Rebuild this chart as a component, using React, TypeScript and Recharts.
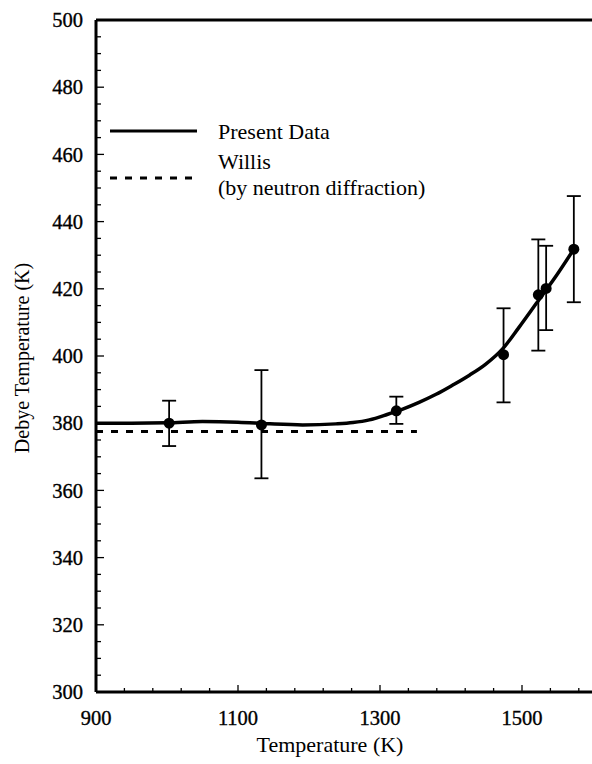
import React from "react";
import { ComposedChart, Line, Scatter, ErrorBar, XAxis, YAxis, ReferenceLine } from "recharts";

const pointT = [1003, 1133, 1323, 1474, 1523, 1534, 1573];
const pointTheta = [380.0, 379.5, 383.7, 400.4, 418.2, 420.1, 431.8];
const errLow = [6.8, 15.9, 3.9, 14.2, 16.6, 12.4, 15.8];
const errHigh = [6.7, 16.3, 4.2, 13.8, 16.5, 12.7, 15.8];

const curveT = [900, 950, 1000, 1050, 1100, 1145, 1191, 1238, 1262, 1285, 1310, 1332, 1355, 1379, 1402, 1426, 1449, 1473, 1496, 1520, 1548, 1573];
const curveTheta = [380.0, 380.0, 380.1, 380.5, 380.3, 379.8, 379.5, 379.8, 380.2, 381.0, 382.6, 384.2, 386.2, 388.6, 391.3, 394.3, 397.6, 402.2, 408.6, 415.6, 423.8, 431.8];

const willisT = [900, 1352];
const willisTheta = [377.5, 377.5];

const xMajor = [900, 1100, 1300, 1500];
const xTicks = Array.from({ length: 18 }, (_, i) => 900 + i * 40);
const yMajor = [300, 320, 340, 360, 380, 400, 420, 440, 460, 480, 500];
const yTicks = Array.from({ length: 41 }, (_, i) => 300 + i * 5);

const points = pointT.map((t, i) => ({ t, v: pointTheta[i], err: [errLow[i], errHigh[i]] }));
const curve = curveT.map((t, i) => ({ t, v: curveTheta[i] }));
const willis = willisT.map((t, i) => ({ t, v: willisTheta[i] }));

const FONT = "'Liberation Serif', 'Times New Roman', serif";

const XTick = (props: any) => {
  const { x, y, payload } = props;
  const major = xMajor.includes(payload.value);
  return (
    <g>
      <line x1={x} x2={x} y1={y} y2={y - (major ? 7 : 4)} stroke="#000" strokeWidth={1.3} />
      {major && (
        <text x={x} y={y + 33} textAnchor="middle" fontFamily={FONT} fontSize={20.5} fill="#000" stroke="#000" strokeWidth={0.35}>
          {payload.value}
        </text>
      )}
    </g>
  );
};

const YTick = (props: any) => {
  const { x, y, payload } = props;
  const major = yMajor.includes(payload.value);
  return (
    <g>
      <line x1={x} x2={x + (major ? 8 : 5)} y1={y} y2={y} stroke="#000" strokeWidth={1.3} />
      {major && (
        <text x={x - 13} y={y} dy="0.35em" textAnchor="end" fontFamily={FONT} fontSize={20.5} fill="#000" stroke="#000" strokeWidth={0.35}>
          {payload.value}
        </text>
      )}
    </g>
  );
};

const Dot = (props: any) => <circle cx={props.cx} cy={props.cy} r={5.5} fill="#000" />;

export default function App() {
  return (
    <div style={{ position: "absolute", left: 0, top: 0, width: 592, height: 764, overflow: "hidden", background: "#fff" }}>
      <ComposedChart width={600} height={764} margin={{ top: 20, right: 7, bottom: 22, left: 36 }}>
        <XAxis
          type="number"
          dataKey="t"
          domain={[900, 1600]}
          ticks={xTicks}
          interval={0}
          tick={<XTick />}
          tickSize={0}
          tickMargin={0}
          tickLine={false}
          axisLine={{ stroke: "#000", strokeWidth: 3 }}
          height={50}
          allowDataOverflow
        />
        <YAxis
          type="number"
          dataKey="v"
          domain={[300, 500]}
          ticks={yTicks}
          interval={0}
          tick={<YTick />}
          tickSize={0}
          tickMargin={0}
          tickLine={false}
          axisLine={{ stroke: "#000", strokeWidth: 3 }}
          width={60}
          allowDataOverflow
        />
        <ReferenceLine y={500} stroke="#000" strokeWidth={3} />
        <Line data={willis} dataKey="v" type="linear" stroke="#000" strokeWidth={3} strokeDasharray="7 8" dot={false} isAnimationActive={false} />
        <Line data={curve} dataKey="v" type="monotone" stroke="#000" strokeWidth={3.5} dot={false} isAnimationActive={false} />
        <Scatter data={points} dataKey="v" shape={<Dot />} isAnimationActive={false}>
          <ErrorBar dataKey="err" direction="y" width={7} stroke="#000" strokeWidth={1.8} isAnimationActive={false} />
        </Scatter>
      </ComposedChart>
      <svg width={592} height={764} style={{ position: "absolute", left: 0, top: 0, pointerEvents: "none" }}>
        <text x={22} y={358} transform="rotate(-90 22 358)" textAnchor="middle" dy="0.35em" fontFamily={FONT} fontSize={20} fill="#000">
          Debye Temperature (K)
        </text>
        <text x={330} y={752} textAnchor="middle" fontFamily={FONT} fontSize={22} fill="#000">
          Temperature (K)
        </text>
        <line x1={110} x2={197} y1={131} y2={131} stroke="#000" strokeWidth={3} />
        <text x={218} y={131} dy="0.35em" fontFamily={FONT} fontSize={22} fill="#000">Present Data</text>
        <line x1={110} x2={192} y1={178} y2={178} stroke="#000" strokeWidth={3} strokeDasharray="7 8" />
        <text x={218} y={161} dy="0.35em" fontFamily={FONT} fontSize={22} fill="#000">Willis</text>
        <text x={218} y={187} dy="0.35em" fontFamily={FONT} fontSize={22} fill="#000">(by neutron diffraction)</text>
      </svg>
    </div>
  );
}
